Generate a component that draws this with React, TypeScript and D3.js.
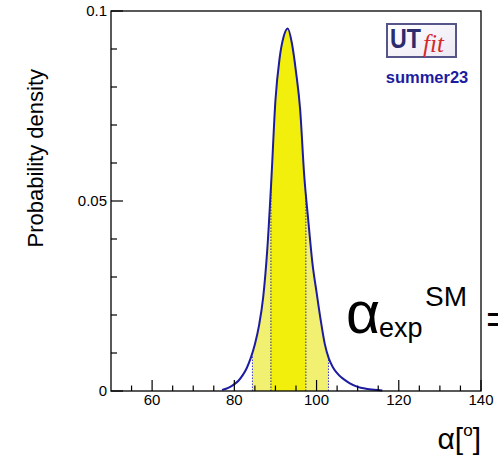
import React from "react";
import * as d3 from "d3";

const ALPHA = [77, 78, 79, 80, 81, 82, 83, 84, 85, 86, 87, 88, 89, 90, 91, 92, 93, 94, 95, 96, 97, 98, 99, 100, 101, 102, 103, 104, 105, 106, 107, 108, 110, 112, 114, 116];
const DENSITY = [0.0003, 0.0006, 0.0011, 0.0018, 0.0027, 0.0041, 0.006, 0.0087, 0.0123, 0.0172, 0.0245, 0.037, 0.0555, 0.0765, 0.0875, 0.0933, 0.0954, 0.0915, 0.084, 0.0742, 0.0567, 0.0447, 0.0336, 0.026, 0.0187, 0.0124, 0.0085, 0.0062, 0.0047, 0.0036, 0.0028, 0.0021, 0.0011, 0.0006, 0.0003, 0.0001];
const BAND68 = [88.9, 97.4];
const BAND95 = [84.4, 102.9];
const X_MAJOR = [60, 80, 100, 120, 140];
const Y_MAJOR = [0, 0.05, 0.1];
const Y_LABELS = ["0", "0.05", "0.1"];

const W = 498, H = 465;
const L = 111, R = 481, T = 11, B = 391;

export default function App() {
  const x = d3.scaleLinear().domain([50, 140]).range([L, R]);
  const y = d3.scaleLinear().domain([0, 0.1]).range([B, T]);
  const pts: [number, number][] = ALPHA.map((a, i) => [a, DENSITY[i]]);
  const line = d3.line<[number, number]>().x(d => x(d[0])).y(d => y(d[1])).curve(d3.curveMonotoneX);
  const area = d3.area<[number, number]>().x(d => x(d[0])).y0(y(0)).y1(d => y(d[1])).curve(d3.curveMonotoneX);
  const interp = (v: number) => {
    const i = d3.bisectLeft(ALPHA, v);
    const a0 = ALPHA[i - 1], a1 = ALPHA[i];
    const t = (v - a0) / (a1 - a0);
    return DENSITY[i - 1] + t * (DENSITY[i] - DENSITY[i - 1]);
  };
  const xMinor = d3.range(55, 140, 5).filter(v => v % 20 !== 0);
  const yMinor = d3.range(0.01, 0.1, 0.01).filter(v => Math.abs(v - 0.05) > 1e-6);
  const font = "'Liberation Sans', Arial, Helvetica, sans-serif";
  const bandEdges = [
    { v: BAND95[0], c: "#3a3ad0" },
    { v: BAND68[0], c: "#333355" },
    { v: BAND68[1], c: "#333355" },
    { v: BAND95[1], c: "#3a3ad0" },
  ];
  return (
    <svg width={W} height={H} style={{ position: "fixed", left: 0, top: 0, background: "#fff" }} fontFamily={font}>
      <defs>
        <clipPath id="c95"><rect x={x(BAND95[0])} y={0} width={x(BAND95[1]) - x(BAND95[0])} height={H} /></clipPath>
        <clipPath id="c68"><rect x={x(BAND68[0])} y={0} width={x(BAND68[1]) - x(BAND68[0])} height={H} /></clipPath>
        <linearGradient id="logoBg" x1="0" y1="0" x2="1" y2="1">
          <stop offset="0" stopColor="#ffffff" />
          <stop offset="1" stopColor="#ece8f4" />
        </linearGradient>
      </defs>
      <rect x={0} y={0} width={W} height={H} fill="#fff" />
      <path d={area(pts) || ""} fill="#f2f070" clipPath="url(#c95)" />
      <path d={area(pts) || ""} fill="#f2ef0c" clipPath="url(#c68)" />
      {bandEdges.map((b, i) => (
        <line key={i} x1={x(b.v)} x2={x(b.v)} y1={y(0)} y2={y(interp(b.v))} stroke={b.c} strokeWidth={1} strokeDasharray="1.5,1.5" />
      ))}
      <path d={line(pts) || ""} fill="none" stroke="#1c1ca0" strokeWidth={2} />
      {/* frame */}
      <rect x={L} y={T} width={R - L} height={B - T} fill="none" stroke="#000" strokeWidth={1.3} />
      {/* x ticks */}
      {X_MAJOR.map(v => (
        <line key={"xm" + v} x1={x(v)} x2={x(v)} y1={B} y2={B - 11} stroke="#000" strokeWidth={1.2} />
      ))}
      {xMinor.map(v => (
        <line key={"xn" + v} x1={x(v)} x2={x(v)} y1={B} y2={B - 5.5} stroke="#000" strokeWidth={1.2} />
      ))}
      {X_MAJOR.map(v => (
        <text key={"xl" + v} x={x(v)} y={405} fontSize={15} textAnchor="middle">{v}</text>
      ))}
      {/* y ticks */}
      {Y_MAJOR.map(v => (
        <line key={"ym" + v} x1={L} x2={L + 12} y1={y(v)} y2={y(v)} stroke="#000" strokeWidth={1.2} />
      ))}
      {yMinor.map(v => (
        <line key={"yn" + v} x1={L} x2={L + 6} y1={y(v)} y2={y(v)} stroke="#000" strokeWidth={1.2} />
      ))}
      {Y_MAJOR.map((v, i) => (
        <text key={"yl" + v} x={107} y={y(v) + 5} fontSize={15} textAnchor="end">{Y_LABELS[i]}</text>
      ))}
      <text transform="translate(43,69) rotate(-90)" fontSize={22} textAnchor="end">Probability density</text>
      {/* x title */}
      <text x={481} y={449} fontSize={30} textAnchor="end">
        <tspan>α[</tspan>
        <tspan fontSize={17} dy={-13}>o</tspan>
        <tspan dy={13}>]</tspan>
      </text>
      {/* alpha_exp^SM */}
      <text x={346} y={333} fontSize={59}>α</text>
      <text x={379} y={337} fontSize={27}>exp</text>
      <text x={425} y={306} fontSize={28}>SM</text>
      <text x={486} y={333} fontSize={40}>=</text>
      {/* logo */}
      <rect x={387} y={24} width={69} height={33} fill="url(#logoBg)" stroke="#55558a" strokeWidth={2} />
      <text x={390} y={48} fontSize={27} fontWeight="bold" fill="#2b2b6e" textLength={31} lengthAdjust="spacingAndGlyphs">UT</text>
      <text x={423} y={52} fontSize={25} fontStyle="italic" fill="#d42828" fontFamily="'Liberation Serif', 'Times New Roman', serif">fit</text>
      <text x={427} y={83} fontSize={16.5} fontWeight="bold" fill="#1c1ca0" textAnchor="middle">summer23</text>
    </svg>
  );
}
